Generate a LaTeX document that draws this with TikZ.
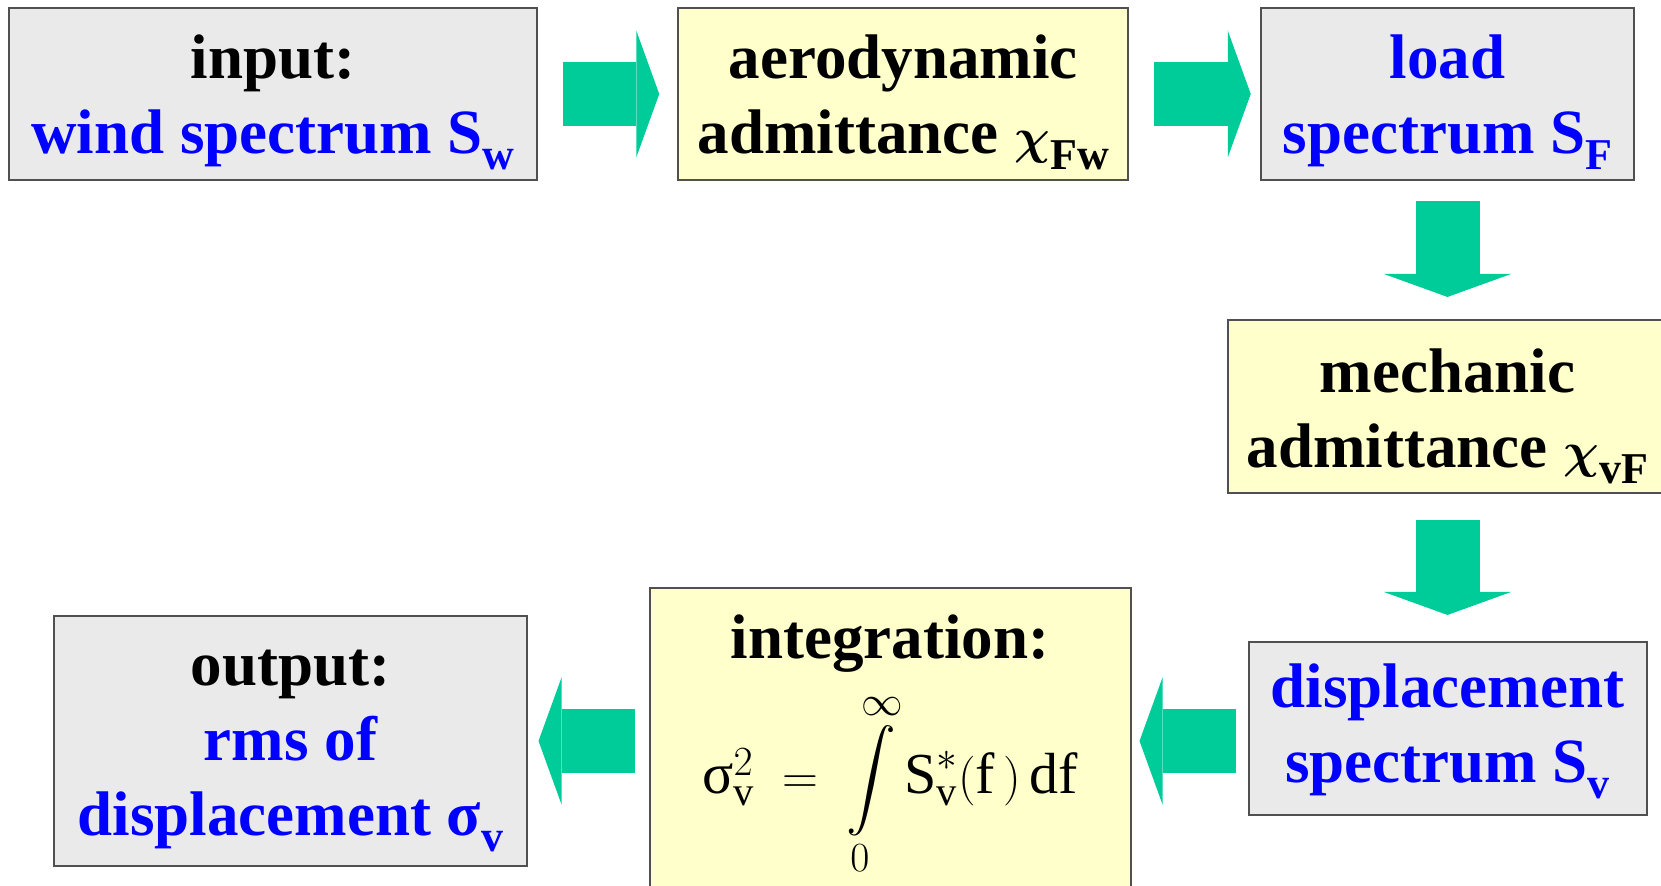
\documentclass[tikz,border=0pt]{standalone}
\usepackage{amsmath}
\usepackage{fontspec}
\setmainfont{Liberation Serif}
\usetikzlibrary{positioning,arrows.meta}

\definecolor{flowgreen}{RGB}{0,204,153}
\definecolor{boxgray}{RGB}{234,234,234}
\definecolor{boxyellow}{RGB}{255,255,204}
\definecolor{rimgray}{RGB}{80,80,80}
\definecolor{specblue}{RGB}{0,0,255}

\newcommand{\spec}[1]{\textcolor{specblue}{#1}}
\newcommand{\idx}[1]{\raisebox{-8pt}{\fontsize{22}{22}\selectfont #1}}
\newcommand{\chiadm}{$\boldsymbol{\chi}$}
% strut in the first line pushes the text down in its box
\newcommand{\lift}[1]{\rule{0pt}{#1}}

\tikzset{
  box/.style={draw=rimgray,line width=1pt,inner sep=0pt,align=center,
    font=\bfseries\fontsize{31.5}{37.5}\selectfont},
  graybox/.style={box,fill=boxgray},
  yellowbox/.style={box,fill=boxyellow},
  flow/.style={draw=flowgreen,line width=32pt,
    -{Triangle[length=11.5pt,width=63.5pt,line width=0pt]}},
}

\begin{document}
\begin{tikzpicture}
  \useasboundingbox (0,0) rectangle (830.5pt,-443pt);
  \clip (0,0) rectangle (830.5pt,-443pt);
  \node[graybox,minimum width=264.25pt,minimum height=86pt] (input)
    at (136.5pt,-47pt) {\lift{30pt}input:\\\spec{wind spectrum S\idx{w}}};
  \node[yellowbox,minimum width=225pt,minimum height=86pt,right=69.5pt of input]
    (aero) {\lift{30pt}aerodynamic\\admittance \chiadm\idx{Fw}};
  \node[graybox,minimum width=186.25pt,minimum height=86pt,right=65.5pt of aero]
    (load) {\lift{30pt}\spec{load}\\\spec{spectrum S\idx{F}}};
  \node[yellowbox,minimum width=220pt,minimum height=86.5pt,below=69pt of load]
    (mech) {\lift{32pt}mechanic\\admittance \chiadm\idx{vF}};
  \node[graybox,minimum width=199pt,minimum height=86.5pt,below=73.5pt of mech]
    (disp) {\lift{24.5pt}\spec{displacement}\\\spec{spectrum S\idx{v}}};
  \node[yellowbox,minimum width=240.5pt,minimum height=155pt,left=58pt of disp,
    yshift=-7.25pt] (integ) {\lift{24.5pt}integration:\\[9pt]
    {\mdseries\fontsize{29}{35}\selectfont
      $\text{σ}^{2}_{\text{v}}\;=\;\displaystyle\int\limits_{0}^{\infty}
      \text{S}^{*}_{\text{v}}(\text{f}\,)\,\text{df}$}};
  \node[graybox,minimum width=236.5pt,minimum height=125pt,left=60.25pt of integ,
    yshift=1pt] (output)
    {\lift{27.5pt}output:\\\spec{rms of}\\\spec{displacement σ\idx{v}}};

  \draw[flow,shorten <=12.25pt,shorten >=9pt] (input) -- (aero);
  \draw[flow,shorten <=12.5pt,shorten >=4.75pt] (aero) -- (load);
  \draw[flow,shorten <=10pt,shorten >=11pt] (load) -- (mech);
  \draw[flow,shorten <=13pt,shorten >=13pt] (mech) -- (disp);
  \draw[flow,shorten <=6pt,shorten >=4pt] (disp.west |- output) -- (integ.east |- output);
  \draw[flow,shorten <=7pt,shorten >=5.25pt] (integ.west |- output) -- (output);
\end{tikzpicture}
\end{document}
